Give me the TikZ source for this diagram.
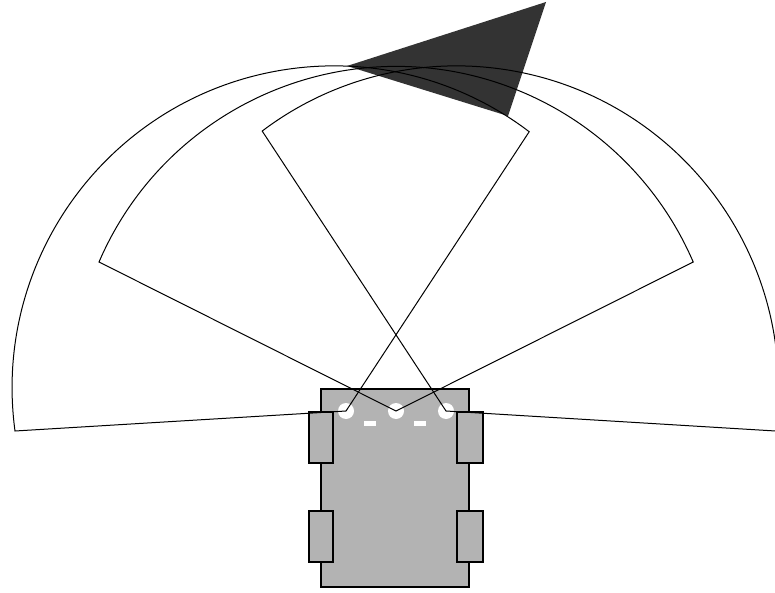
\documentclass[tikz,border=0pt]{standalone}
\usetikzlibrary{positioning}
\definecolor{cbody}{HTML}{B3B3B3}
\definecolor{ctarget}{HTML}{333333}
\tikzset{
  every picture/.style={x=1pt, y=1pt, line width=1pt},
  chassis/.style={draw, fill=cbody, minimum width=148pt, minimum height=198pt, inner sep=0pt, outer sep=0pt, line width=1.2pt},
  wheel/.style={draw, fill=cbody, minimum width=#1, minimum height=51pt, inner sep=0pt, outer sep=0pt, line width=1.1pt},
  wheel/.default=24pt,
  sensor/.style={circle, fill=white, minimum size=16pt, inner sep=0pt},
  emitter/.style={fill=white, minimum width=12pt, minimum height=5pt, inner sep=0pt},
  beam/.style={draw=black, line join=miter},
}

\begin{document}
\begin{tikzpicture}
  \useasboundingbox (0,0) rectangle (775,592);
  \node[chassis] (body) at (395,104) {};
  \foreach \n/\x/\y/\w in {fl/321/154.5/24pt, rl/321/55.5/24pt, fr/470/154.5/26pt, rr/470/55.5/26pt} {
    \node[wheel=\w] (\n) at (\x,\y) {};
  }
  \foreach \n/\x in {left/346, mid/396, right/446} {
    \node[sensor] (\n) at (\x,181) {};
  }
  \node[emitter] (gapa) at (370,168.5) {};
  \node[emitter] (gapb) at (420,168.5) {};
  % target
  \fill[ctarget] (347,526) coordinate (tip) -- (546,590) -- (508,476) -- cycle;
  % sensor ranges
  \draw[beam] (left.center) -- (15,161) arc[start angle=187.7, end angle=52.7, radius=322pt] -- cycle;
  \draw[beam] (mid.center) -- (99,330) arc[start angle=156.7, end angle=23.3, radius=323.5pt] -- cycle;
  \draw[beam] (right.center) -- (775.5,161) arc[start angle=-7.7, end angle=127.1, radius=322pt] -- cycle;
\end{tikzpicture}
\end{document}
